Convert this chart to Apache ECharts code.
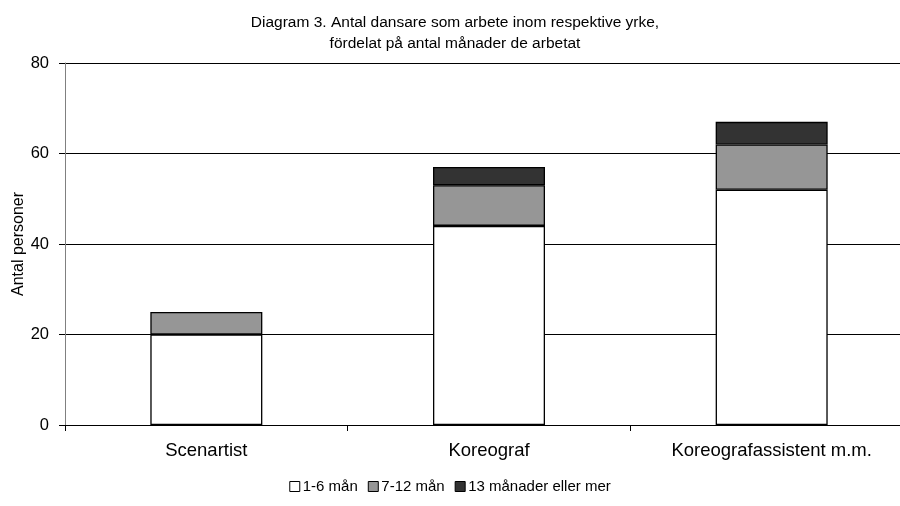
<!DOCTYPE html>
<html>
<head>
<meta charset="utf-8">
<script src="https://cdn.jsdelivr.net/npm/echarts@6/dist/echarts.min.js"></script>
<style>
  html, body { margin: 0; padding: 0; background: #fff; }
  #chart { width: 900px; height: 506px; }
</style>
</head>
<body>
<div id="chart"></div>
<script>
// yrken
const categories = ["Scenartist", "Koreograf", "Koreografassistent m.m."];
// antal personer per arbetade månader
const kort = [20, 44, 52];      // 1-6 mån
const mellan = [5, 9, 10];      // 7-12 mån
const lang = [0, 4, 5];         // 13 månader eller mer
const seriesNames = ["1-6 mån", "7-12 mån", "13 månader eller mer"];
const colors = ["#ffffff", "#969696", "#333333"];

const font = "Liberation Sans, Arial, sans-serif";

const chart = echarts.init(document.getElementById("chart"));

// 0 -> ingen stapel (annars ritas en tunn kantlinje)
const mkSeries = (name, data, color) => ({
  name,
  type: "bar",
  stack: "total",
  data: data.map(v => (v === 0 ? "-" : v)),
  barWidth: 112,
  itemStyle: { color, borderColor: "#000", borderWidth: 1.3 }
});

chart.setOption({
  animation: false,
  backgroundColor: "#fff",
  textStyle: { fontFamily: font },
  title: {
    text: "Diagram 3. Antal dansare som arbete inom respektive yrke,\nfördelat på antal månader de arbetat",
    left: 450,
    textAlign: "center",
    top: 7,
    textStyle: { fontSize: 15.5, fontWeight: "normal", color: "#000", lineHeight: 21, fontFamily: font }
  },
  legend: {
    bottom: 7,
    left: "center",
    icon: "rect",
    itemWidth: 10,
    itemHeight: 10,
    itemGap: 10,
    data: seriesNames.map((n, i) => ({
      name: n,
      itemStyle: { color: colors[i], borderColor: "#000", borderWidth: 1 }
    })),
    textStyle: { fontSize: 15, color: "#000", fontFamily: font, padding: [0, 0, 0, -2] }
  },
  // höger kant ligger utanför bilden i originalet
  grid: { left: 65, top: 63, width: 848, height: 362, containLabel: false, outerBoundsMode: "none" },
  xAxis: {
    type: "category",
    data: categories,
    axisLine: { lineStyle: { color: "#000", width: 1 } },
    axisTick: { show: true, length: 6, lineStyle: { color: "#000" } },
    axisLabel: { fontSize: 18.5, color: "#000", margin: 16, fontFamily: font }
  },
  yAxis: {
    type: "value",
    min: 0,
    max: 80,
    interval: 20,
    name: "Antal personer",
    nameLocation: "middle",
    nameRotate: 90,
    nameGap: 38,
    nameMoveOverlap: false,
    nameTextStyle: { fontSize: 16, color: "#000", fontFamily: font },
    axisLine: { show: true, lineStyle: { color: "#808080", width: 1 } },
    axisTick: { show: true, length: 6, lineStyle: { color: "#000" } },
    axisLabel: { fontSize: 16.5, color: "#000", margin: 16, fontFamily: font },
    splitLine: { show: true, lineStyle: { color: "#000", width: 1 } }
  },
  series: [
    mkSeries(seriesNames[0], kort, colors[0]),
    mkSeries(seriesNames[1], mellan, colors[1]),
    mkSeries(seriesNames[2], lang, colors[2])
  ]
});
</script>
</body>
</html>
